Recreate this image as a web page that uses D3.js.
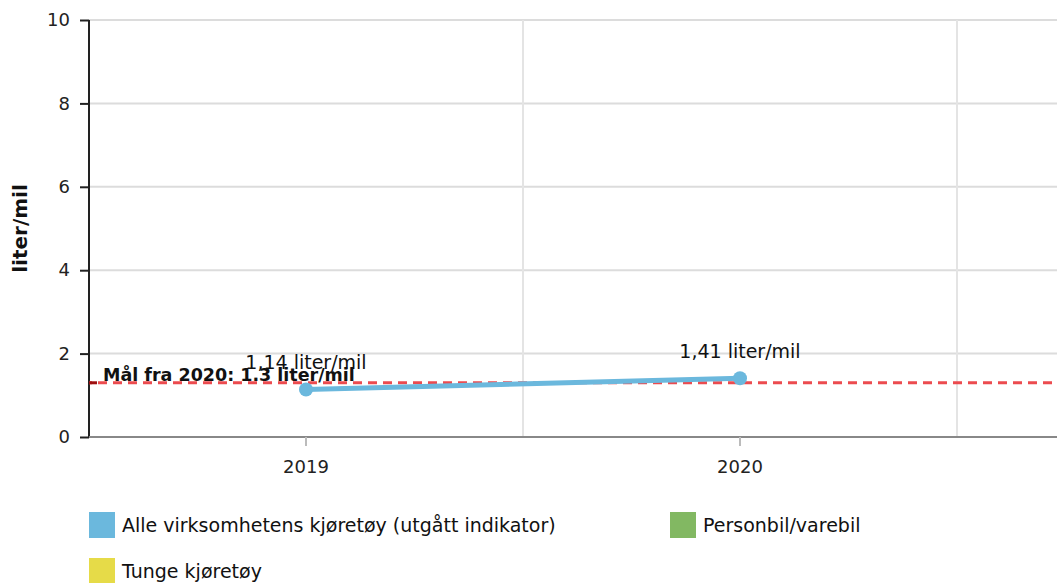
<!DOCTYPE html>
<html><head><meta charset="utf-8">
<script src="https://cdn.jsdelivr.net/npm/d3@7"></script>
<style>body{margin:0;background:#fff;}svg{display:block;font-family:"DejaVu Sans",Verdana,sans-serif;}</style>
</head><body><svg id="c" width="1057" height="583"></svg>
<script>
const categories = ["2019", "2020"];
const values = [1.14, 1.41];
const valueLabels = ["1,14 liter/mil", "1,41 liter/mil"];
const yTicks = [0, 2, 4, 6, 8, 10];
const targetValue = 1.3;
const targetLabel = "Mål fra 2020: 1.3 liter/mil";
const legendNames = ["Alle virksomhetens kjøretøy (utgått indikator)", "Personbil/varebil", "Tunge kjøretøy"];
const legendColors = ["#6bb8dd", "#82b862", "#e6db48"];

const svg = d3.select("#c");
const L = 89, R = 1057, T = 20, B = 437;
const x = d3.scaleBand().domain(categories).range([L, 957]);
const y = d3.scaleLinear().domain([0, 10]).range([B, T]);

// horizontal grid
svg.append("g").selectAll("line").data(yTicks.filter(d => d > 0)).join("line")
  .attr("x1", L).attr("x2", R).attr("y1", d => y(d)).attr("y2", d => y(d))
  .attr("stroke", "#dcdcdc").attr("stroke-width", 2);
// vertical grid at band boundaries
svg.append("g").selectAll("line").data(categories).join("line")
  .attr("x1", d => x(d) + x.bandwidth()).attr("x2", d => x(d) + x.bandwidth())
  .attr("y1", T).attr("y2", B).attr("stroke", "#e4e4e4").attr("stroke-width", 2);

// y axis
const yAxis = svg.append("g").attr("transform", `translate(${L},0)`)
  .call(d3.axisLeft(y).tickValues(yTicks).tickSize(9).tickPadding(10));
yAxis.select(".domain").attr("stroke", "#222").attr("stroke-width", 2).attr("d", `M0,${T}V${B}`);
yAxis.selectAll(".tick line").attr("stroke", "#222").attr("stroke-width", 2);
yAxis.selectAll("text").attr("font-size", 18).attr("fill", "#222").attr("font-family", "DejaVu Sans, Verdana, sans-serif");

// x axis
const xAxis = svg.append("g").attr("transform", `translate(0,${B})`)
  .call(d3.axisBottom(x).tickSize(9).tickPadding(14));
xAxis.select(".domain").attr("d", `M${L},0H${R}`).attr("stroke", "#888").attr("stroke-width", 2);
xAxis.selectAll(".tick line").attr("stroke", "#bbb").attr("stroke-width", 2);
xAxis.selectAll("text").attr("font-size", 18).attr("fill", "#222").attr("font-family", "DejaVu Sans, Verdana, sans-serif");

// y label
svg.append("text").attr("transform", `translate(27,${(T + B) / 2}) rotate(-90)`)
  .attr("text-anchor", "middle").attr("font-size", 20).attr("font-weight", "bold")
  .attr("fill", "#111").text("liter/mil");

// target line
svg.append("line").attr("x1", L).attr("x2", R).attr("y1", y(targetValue)).attr("y2", y(targetValue))
  .attr("stroke", "#ec4b4f").attr("stroke-width", 3).attr("stroke-dasharray", "9,6").attr("stroke-dashoffset", -9);
svg.append("line").attr("x1", L).attr("x2", L + 8).attr("y1", y(targetValue)).attr("y2", y(targetValue))
  .attr("stroke", "#9e1010").attr("stroke-width", 3);

// series
const line = d3.line().x((d, i) => x(categories[i]) + x.bandwidth() / 2).y(d => y(d));
svg.append("path").datum(values).attr("d", line).attr("fill", "none")
  .attr("stroke", legendColors[0]).attr("stroke-width", 5);
svg.append("g").selectAll("circle").data(values).join("circle")
  .attr("cx", (d, i) => x(categories[i]) + x.bandwidth() / 2).attr("cy", d => y(d))
  .attr("r", 7).attr("fill", legendColors[0]);

// target label (drawn over)
svg.append("text").attr("x", 103).attr("y", y(targetValue) - 2)
  .attr("font-size", 17.5).attr("font-weight", "bold").attr("fill", "#111").text(targetLabel);

// value labels
svg.append("g").selectAll("text").data(values).join("text")
  .attr("x", (d, i) => x(categories[i]) + x.bandwidth() / 2).attr("y", d => y(d) - 20)
  .attr("text-anchor", "middle").attr("font-size", 19).attr("fill", "#111")
  .text((d, i) => valueLabels[i]);

// legend
const legendPos = [[89, 512], [670, 512], [89, 558]];
const lg = svg.append("g").selectAll("g").data(legendNames).join("g")
  .attr("transform", (d, i) => `translate(${legendPos[i][0]},${legendPos[i][1]})`);
lg.append("rect").attr("width", 26).attr("height", 26).attr("fill", (d, i) => legendColors[i]);
lg.append("text").attr("x", 33).attr("y", 13).attr("dy", "0.35em").attr("font-size", 19)
  .attr("fill", "#111").text(d => d);
</script></body></html>
